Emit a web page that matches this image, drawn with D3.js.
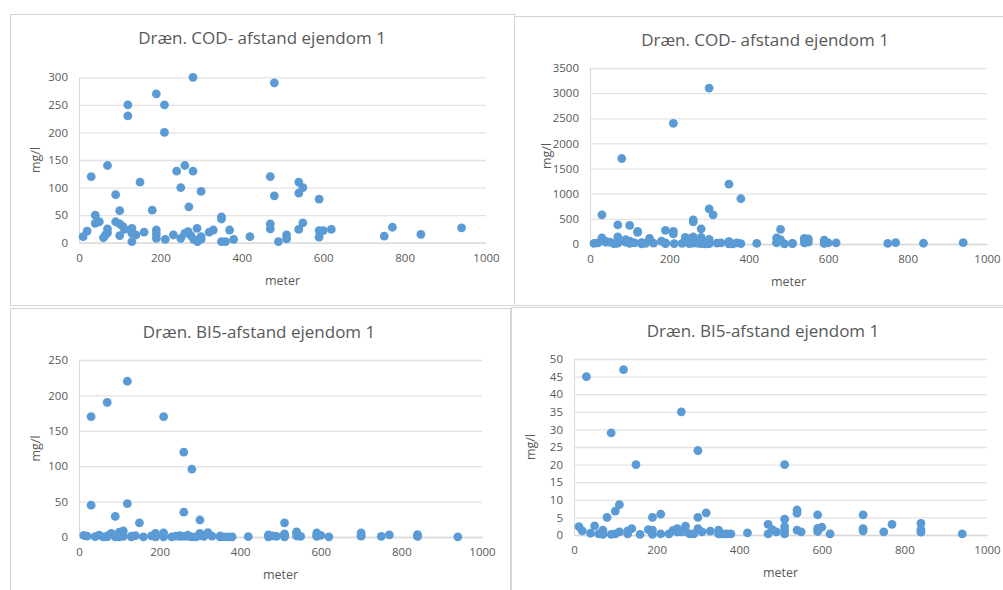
<!DOCTYPE html>
<html>
<head>
<meta charset="utf-8">
<script src="https://cdn.jsdelivr.net/npm/d3@7"></script>
<style>
body { margin:0; background:#fff; }
text { font-family:"Open Sans", sans-serif; fill:#595959; }
</style>
</head>
<body>
<script>
var width = 1003
var height = 590

// COD samples: distance (meter) and concentration (mg/l)
var codDist = [10,20,30,40,40,50,60,65,70,70,70,90,90,100,100,100,108,112,120,120,
               130,130,130,140,150,160,180,190,190,190,190,210,210,212,232,240,250,250,260,260,
               268,270,275,280,280,282,290,291,300,300,300,320,330,350,350,350,360,370,380,420,
               470,470,470,480,480,490,510,510,540,540,540,550,550,590,590,590,600,620,750,770,
               840,940,
               30,70,80,100,210,260,260,300,300,310,350,380];
var codVal  = [11,21,120,50,35,38,9,14,18,140,25,87,38,58,34,13,29,24,250,230,
               26,17,2,14,110,19,59,270,23,16,8,250,200,6,14,130,100,8,140,17,
               20,65,13,300,130,6,26,2,93,11,6,19,23,47,43,2,2,23,6,11,
               120,34,25,290,85,2,14,7,110,90,24,100,36,79,22,10,22,24,12,28,
               15,27,
               580,380,1700,370,2400,480,440,3100,700,580,1190,900];

// BI5 samples
var bi5Dist = [12,20,30,40,50,60,70,70,80,90,90,100,100,110,110,120,130,130,140,150,
               160,180,190,190,190,210,210,230,240,250,250,260,260,270,270,280,290,300,300,300,
               310,320,330,350,350,360,370,380,420,470,470,480,490,510,510,510,510,510,540,540,
               540,550,590,590,590,600,620,700,700,700,750,770,840,840,840,940,
               30,70,120,210,260,280];
var bi5Val  = [2.4,1.2,45,0.5,2.6,0.3,1.4,0.2,5,29,0.2,6.8,0.3,8.6,0.9,47,0.3,1.2,1.8,20,
               0.2,1.5,5,1.4,0.2,5.9,0.3,0.3,1.3,1.8,0.9,35,0.9,2.5,1,0.3,0.3,5,24,1.8,
               0.9,6.3,1.1,1.4,0.3,0.3,0.3,0.3,0.6,3,0.3,1.5,0.9,20,4.5,2.4,1.3,0.3,7.1,6.2,
               1.4,0.9,5.7,1.9,1,2.2,0.3,5.7,1.8,1.2,0.9,3,3.3,1.5,0.8,0.3,
               170,190,220,170,120,96];

var xTicks = [0,200,400,600,800,1000];
var codTicksSmall = [0,50,100,150,200,250,300];
var codTicksBig = [0,500,1000,1500,2000,2500,3000,3500];
var bi5TicksBig = [0,50,100,150,200,250];
var bi5TicksSmall = [0,5,10,15,20,25,30,35,40,45,50];

var codTitle = "Dræn. COD- afstand ejendom 1";
var bi5Title = "Dræn. BI5-afstand ejendom 1";

var svg = d3.select("body").append("svg")
            .attr("width",width)
            .attr("height",height);

var panels = [
  {box:[10,14,504,291], l:79, r:486, t:77.3, b:242.7, ticks:codTicksSmall, title:codTitle, tx:262, ty:38, xs:codDist, ys:codVal},
  {box:[514,16,500,289], l:590, r:987, t:68, b:244, ticks:codTicksBig, title:codTitle, tx:765, ty:40, xs:codDist, ys:codVal},
  {box:[10,308,500,300], l:79, r:482, t:360, b:537, ticks:bi5TicksBig, title:bi5Title, tx:259, ty:332, xs:bi5Dist, ys:bi5Val},
  {box:[511,307,500,300], l:574, r:987, t:359, b:535, ticks:bi5TicksSmall, title:bi5Title, tx:763, ty:331, xs:bi5Dist, ys:bi5Val}
];

var fmt = d3.format("d");

var drawPanel = function(p){
    var g = svg.append("g");
    g.append("rect")
     .attr("x",p.box[0]+0.5).attr("y",p.box[1]+0.5)
     .attr("width",p.box[2]).attr("height",p.box[3])
     .style("fill","#fff").style("stroke","#d4d4d4");

    var yMax = p.ticks[p.ticks.length-1];
    var x = d3.scaleLinear().domain([0,1000]).range([p.l,p.r]);
    var y = d3.scaleLinear().domain([0,yMax]).range([p.b,p.t]);

    // gridlines
    g.append("g")
     .attr("transform","translate("+p.l+",0)")
     .call(d3.axisLeft(y).tickValues(p.ticks).tickSize(-(p.r-p.l)).tickFormat(""))
     .call(function(a){
        a.select(".domain").remove();
        a.selectAll("line").style("stroke","#e3e3e3").style("stroke-width",1.3);
     });

    // y labels
    g.append("g")
     .attr("transform","translate("+p.l+",0)")
     .call(d3.axisLeft(y).tickValues(p.ticks).tickFormat(fmt).tickSize(0).tickPadding(11))
     .call(function(a){
        a.select(".domain").style("stroke","#d9d9d9");
        a.selectAll("text").style("font-size","11.5px").style("font-family","Open Sans").attr("fill","#595959");
     });

    // x axis
    g.append("g")
     .attr("transform","translate(0,"+p.b+")")
     .call(d3.axisBottom(x).tickValues(xTicks).tickFormat(fmt).tickSize(0).tickPadding(11))
     .call(function(a){
        a.select(".domain").style("stroke","#d9d9d9").style("stroke-width",1.3);
        a.selectAll("text").style("font-size","11.5px").style("font-family","Open Sans").attr("fill","#595959");
     });

    var pts = d3.range(p.xs.length).filter(function(i){ return p.ys[i] <= yMax; });
    g.selectAll("circle").data(pts).enter().append("circle")
     .attr("cx",function(i){ return x(p.xs[i]); })
     .attr("cy",function(i){ return y(p.ys[i]); })
     .attr("r",4.4)
     .style("fill","#5b9bd5");

    g.append("text")
     .attr("x",p.tx).attr("y",p.ty+6)
     .attr("text-anchor","middle")
     .style("font-size","17px")
     .text(p.title);

    g.append("text")
     .attr("x",(p.l+p.r)/2).attr("y",p.b+42)
     .attr("text-anchor","middle")
     .style("font-size","12.5px")
     .text("meter");

    g.append("text")
     .attr("transform","translate("+(p.l-39)+","+((p.t+p.b)/2)+") rotate(-90)")
     .attr("text-anchor","middle")
     .style("font-size","12.5px")
     .text("mg/l");
}

panels.forEach(drawPanel);
</script>
</body>
</html>
